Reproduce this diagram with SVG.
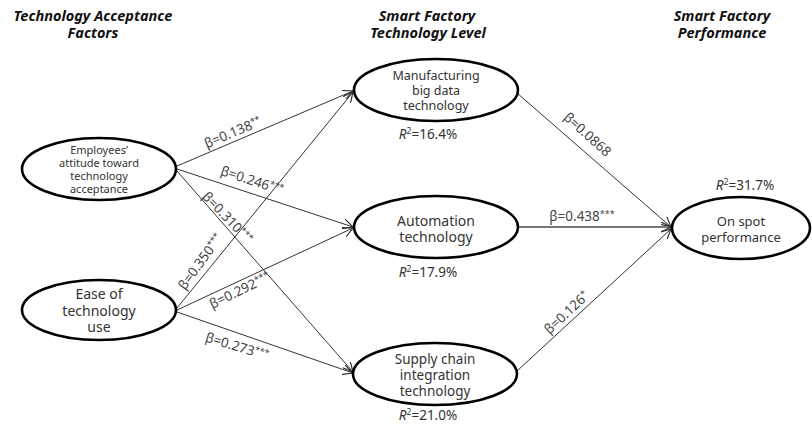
<svg xmlns="http://www.w3.org/2000/svg" width="812" height="424" viewBox="0 0 812 424">
<style>
.bg{fill:#fff}
.node ellipse{fill:#fff;stroke:#000;stroke-width:2.6}
.nt{font-family:"Noto Sans","DejaVu Sans",sans-serif;fill:#333;text-anchor:middle}
.hd{font-family:"Noto Sans","DejaVu Sans",sans-serif;font-weight:bold;font-style:italic;font-size:14.5px;fill:#111;text-anchor:middle}
.lbl{font-family:"Noto Sans","DejaVu Sans",sans-serif;font-size:13.5px;fill:#444;text-anchor:middle}
.r2{font-family:"Noto Sans","DejaVu Sans",sans-serif;font-size:13.5px;fill:#333;text-anchor:middle}
.st{font-size:9px}
.edge{stroke:#333;stroke-width:1;fill:none;marker-end:url(#arr)}
.edge2{stroke:#777;stroke-width:2;fill:none;marker-end:url(#arr)}
</style>
<defs>
<marker id="arr" viewBox="0 0 10 10" refX="10" refY="5" markerWidth="10" markerHeight="10" markerUnits="userSpaceOnUse" orient="auto">
<path d="M0,0 L10,5 L0,10" fill="none" stroke="#333" stroke-width="1.2"/>
</marker>
</defs>
<rect class="bg" x="0" y="0" width="812" height="424"/>

<g id="headers">
<text class="hd" x="93" y="21">Technology Acceptance</text>
<text class="hd" x="93" y="38">Factors</text>
<text class="hd" x="427" y="21">Smart Factory</text>
<text class="hd" x="428" y="38">Technology Level</text>
<text class="hd" x="722" y="21">Smart Factory</text>
<text class="hd" x="722" y="38">Performance</text>
</g>

<g id="connectors">
<line class="edge" x1="177" y1="166" x2="353" y2="91"/>
<line class="edge" x1="177" y1="169" x2="353" y2="227"/>
<line class="edge" x1="177" y1="171" x2="353" y2="372"/>
<line class="edge" x1="177" y1="308" x2="353" y2="92"/>
<line class="edge" x1="177" y1="310" x2="353" y2="228"/>
<line class="edge" x1="177" y1="312" x2="353" y2="373"/>
<line class="edge" x1="517" y1="93" x2="671" y2="227"/>
<line class="edge2" x1="518" y1="227" x2="671" y2="227"/>
<line class="edge" x1="517" y1="371" x2="671" y2="229"/>

<text class="lbl" transform="rotate(-23 233 133)" x="233" y="137">β=0.138<tspan class="st" dy="-4">**</tspan></text>
<text class="lbl" transform="rotate(18 252 181)" x="252" y="185">β=0.246<tspan class="st" dy="-4">***</tspan></text>
<text class="lbl" transform="rotate(46 227 218)" x="227" y="222">β=0.310<tspan class="st" dy="-4">***</tspan></text>
<text class="lbl" transform="rotate(-54 201 262)" x="201" y="266">β=0.350<tspan class="st" dy="-4">***</tspan></text>
<text class="lbl" transform="rotate(-26 240 291)" x="240" y="295">β=0.292<tspan class="st" dy="-4">***</tspan></text>
<text class="lbl" transform="rotate(17 237 347)" x="237" y="351">β=0.273<tspan class="st" dy="-4">***</tspan></text>
<text class="lbl" transform="rotate(42 587 135)" x="587" y="139">β=0.0868</text>
<text class="lbl" x="582" y="221">β=0.438<tspan class="st" dy="-4">***</tspan></text>
<text class="lbl" transform="rotate(-43 567 313)" x="567" y="317">β=0.126<tspan class="st" dy="-4">*</tspan></text>
</g>

<g id="employees" class="node">
<ellipse cx="99" cy="169" rx="77" ry="31"/>
<text class="nt" font-size="11" x="99" y="154">Employees’</text>
<text class="nt" font-size="11" x="99" y="167">attitude toward</text>
<text class="nt" font-size="11" x="99" y="180">technology</text>
<text class="nt" font-size="11" x="99" y="193">acceptance</text>
</g>

<g id="ease" class="node">
<ellipse cx="99" cy="310" rx="77" ry="30"/>
<text class="nt" font-size="14" x="99" y="299">Ease of</text>
<text class="nt" font-size="14" x="99" y="316">technology</text>
<text class="nt" font-size="14" x="99" y="332">use</text>
</g>

<g id="bigdata" class="node">
<ellipse cx="436" cy="90" rx="82" ry="31"/>
<text class="nt" font-size="12.5" x="436" y="80">Manufacturing</text>
<text class="nt" font-size="12.5" x="436" y="95">big data</text>
<text class="nt" font-size="12.5" x="436" y="110">technology</text>
<text class="r2" x="428" y="139"><tspan font-style="italic">R</tspan><tspan font-size="8.5" dy="-5">2</tspan><tspan dy="5">=16.4%</tspan></text>
</g>

<g id="automation" class="node">
<ellipse cx="436" cy="227" rx="82" ry="31"/>
<text class="nt" font-size="14" x="436" y="226">Automation</text>
<text class="nt" font-size="14" x="436" y="242">technology</text>
<text class="r2" x="428" y="277"><tspan font-style="italic">R</tspan><tspan font-size="8.5" dy="-5">2</tspan><tspan dy="5">=17.9%</tspan></text>
</g>

<g id="supply" class="node">
<ellipse cx="435" cy="374" rx="82" ry="31"/>
<text class="nt" font-size="13.5" x="435" y="364">Supply chain</text>
<text class="nt" font-size="13.5" x="435" y="380">integration</text>
<text class="nt" font-size="13.5" x="435" y="396">technology</text>
<text class="r2" x="428" y="420"><tspan font-style="italic">R</tspan><tspan font-size="8.5" dy="-5">2</tspan><tspan dy="5">=21.0%</tspan></text>
</g>

<g id="onspot" class="node">
<ellipse cx="741" cy="228" rx="69" ry="31"/>
<text class="nt" font-size="13" x="741" y="226">On spot</text>
<text class="nt" font-size="13" x="741" y="242">performance</text>
<text class="r2" x="745" y="190"><tspan font-style="italic">R</tspan><tspan font-size="8.5" dy="-5">2</tspan><tspan dy="5">=31.7%</tspan></text>
</g>
</svg>
